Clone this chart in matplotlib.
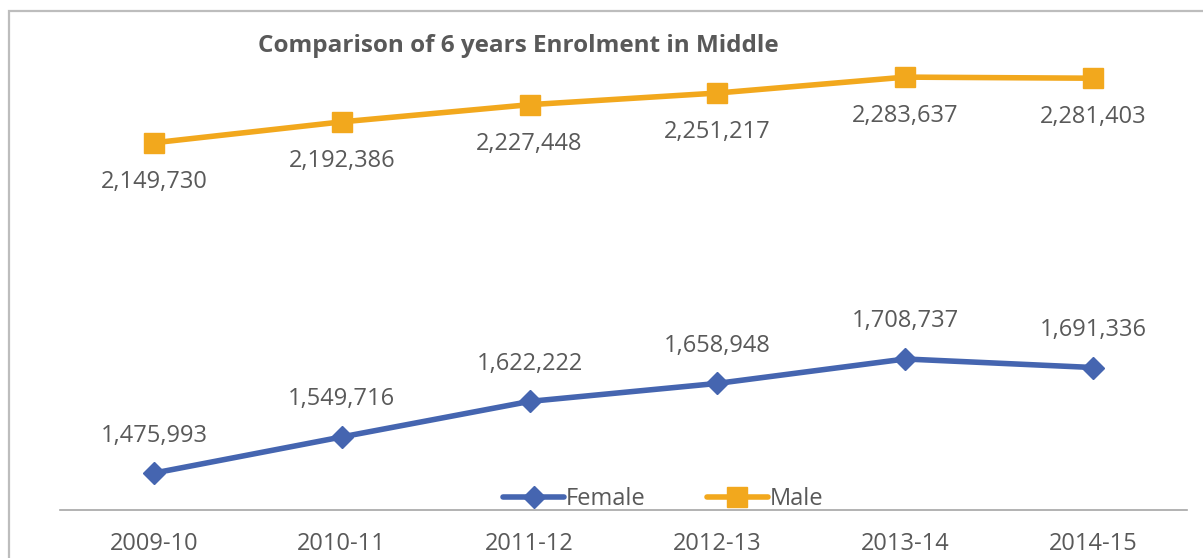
import matplotlib
matplotlib.use('Agg')
import matplotlib.pyplot as plt
from matplotlib.patches import Rectangle

# Data
years = ['2009-10', '2010-11', '2011-12', '2012-13', '2013-14', '2014-15']
female = [1475993, 1549716, 1622222, 1658948, 1708737, 1691336]
male = [2149730, 2192386, 2227448, 2251217, 2283637, 2281403]

blue = '#4565B0'
orange = '#F2A81D'
grey_text = '#595959'

plt.rcParams['font.family'] = ['Open Sans', 'DejaVu Sans']

fig = plt.figure(figsize=(12.03, 5.58), dpi=100)
ax = fig.add_axes([0.0499, 0.086, 0.9368, 0.842])

x = list(range(len(years)))
ax.plot(x, female, color=blue, lw=4, marker='D', markersize=11,
        solid_capstyle='round', label='Female')
ax.plot(x, male, color=orange, lw=4, marker='s', markersize=14,
        solid_capstyle='round', label='Male')

for xi, v in zip(x, female):
    ax.annotate(f'{v:,}', (xi, v), xytext=(0, 27), textcoords='offset points',
                ha='center', va='center', fontsize=17, color=grey_text)
for xi, v in zip(x, male):
    ax.annotate(f'{v:,}', (xi, v), xytext=(0, -28), textcoords='offset points',
                ha='center', va='center', fontsize=17, color=grey_text)

ax.set_xlim(-0.5, len(years) - 0.5)
ax.set_ylim(1400700, 2359000)
ax.set_xticks(x)
ax.set_xticklabels(years, fontsize=17, color=grey_text)
ax.tick_params(axis='x', length=0, pad=16)
ax.set_yticks([])
for s in ['top', 'left', 'right']:
    ax.spines[s].set_visible(False)
ax.spines['bottom'].set_color('#A6A6A6')
ax.spines['bottom'].set_linewidth(1.2)

leg = ax.legend(loc='lower center', bbox_to_anchor=(0.535, -0.048), ncol=2,
                frameon=False, fontsize=17, handlelength=2.6, handletextpad=0.05,
                columnspacing=2.6, labelcolor=grey_text)

fig.text(0.2145, 0.917, 'Comparison of 6 years Enrolment in Middle',
         fontsize=17.5, fontweight='bold', color=grey_text, ha='left', va='center')

# outer chart border (left and top edges visible)
fig.patches.append(Rectangle((0.0075, -0.1), 1.1, 1.08, transform=fig.transFigure,
                             fill=False, edgecolor='#BDBDBD', lw=1.6))

fig.savefig('out.png', dpi=100)
